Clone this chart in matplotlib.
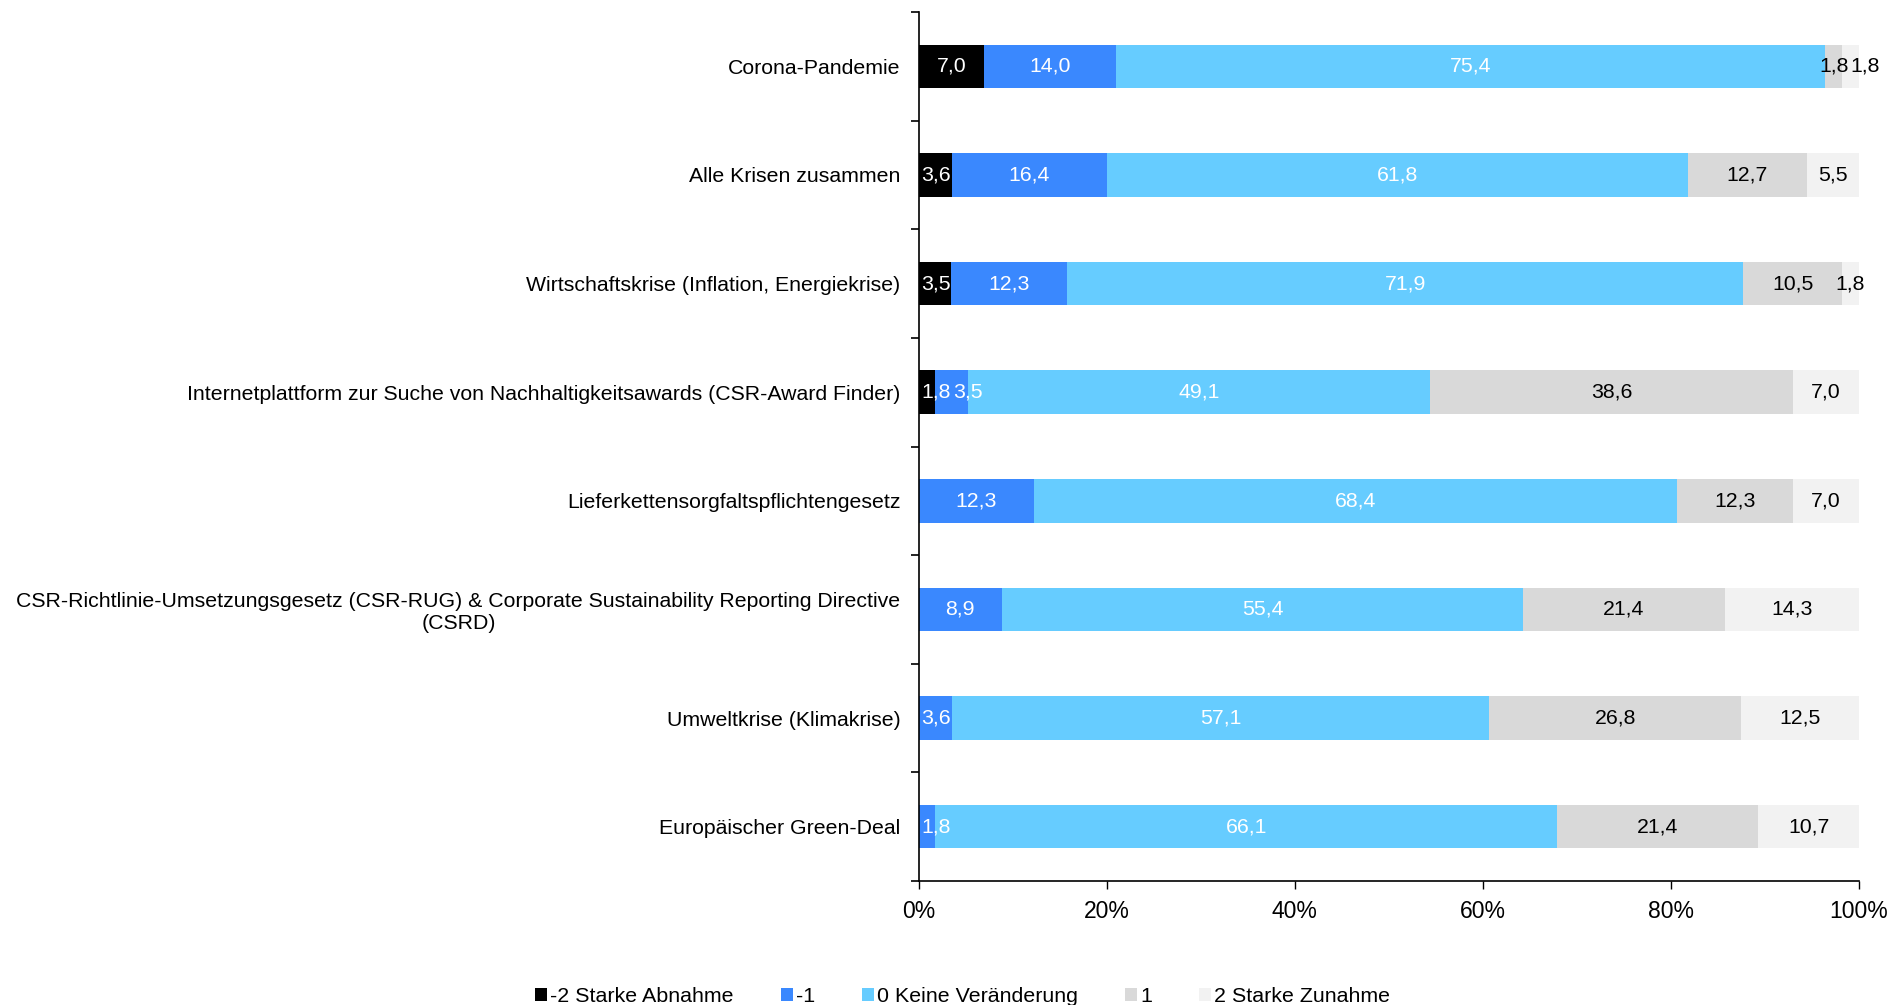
import matplotlib
matplotlib.use("Agg")
import matplotlib.pyplot as plt
from matplotlib.patches import Patch
import numpy as np

plt.rcParams['font.family'] = ['Liberation Sans', 'DejaVu Sans']

categories = [
    "Corona-Pandemie",
    "Alle Krisen zusammen",
    "Wirtschaftskrise (Inflation, Energiekrise)",
    "Internetplattform zur Suche von Nachhaltigkeitsawards (CSR-Award Finder)",
    "Lieferkettensorgfaltspflichtengesetz",
    "CSR-Richtlinie-Umsetzungsgesetz (CSR-RUG) & Corporate Sustainability Reporting Directive\n(CSRD)",
    "Umweltkrise (Klimakrise)",
    "Europäischer Green-Deal",
]
series_names = ["-2 Starke Abnahme", "-1", "0 Keine Veränderung", "1", "2 Starke Zunahme"]
s_minus2 = [7.0, 3.6, 3.5, 1.8, 0.0, 0.0, 0.0, 0.0]
s_minus1 = [14.0, 16.4, 12.3, 3.5, 12.3, 8.9, 3.6, 1.8]
s_zero = [75.4, 61.8, 71.9, 49.1, 68.4, 55.4, 57.1, 66.1]
s_plus1 = [1.8, 12.7, 10.5, 38.6, 12.3, 21.4, 26.8, 21.4]
s_plus2 = [1.8, 5.5, 1.8, 7.0, 7.0, 14.3, 12.5, 10.7]
x_ticks = [0, 20, 40, 60, 80, 100]

colors = ["#000000", "#3A88FE", "#66CCFF", "#D9D9D9", "#F2F2F2"]
text_colors = ["white", "white", "white", "black", "black"]

fig = plt.figure(figsize=(18.95, 10.05), dpi=100)
ax = fig.add_axes([0.4847, 0.1234, 0.4963, 0.8646])

y = np.arange(len(categories))
left = np.zeros(len(categories))
series = [s_minus2, s_minus1, s_zero, s_plus1, s_plus2]
row_labels = {i: [] for i in range(len(categories))}
for vals, col, tc, name in zip(series, colors, text_colors, series_names):
    vals = np.array(vals)
    ax.barh(y, vals, left=left, height=0.4, color=col, label=name, linewidth=0)
    for yi, (l, v) in enumerate(zip(left, vals)):
        if v > 0:
            t = ax.text(l + v / 2, yi, f"{v:.1f}".replace(".", ","), ha="center", va="center",
                        color=tc, fontsize=15.3)
            row_labels[yi].append(t)
    left += vals

ax.set_xlim(0, 100)
ax.set_ylim(len(categories) - 0.5, -0.5)
ax.set_xticks(x_ticks)
ax.set_xticklabels([f"{t}%" for t in x_ticks], fontsize=16.5)
ax.set_yticks(y)
ax.set_yticklabels(categories, fontsize=15.3, multialignment="center")
ax.tick_params(axis="y", which="major", length=0, pad=13)
ax.set_yticks(np.arange(-0.5, len(categories), 1), minor=True)
ax.tick_params(axis="y", which="minor", length=6, width=1.2, direction="out")
ax.tick_params(axis="x", which="major", length=6, width=1, direction="out", pad=8)
for s in ["top", "right"]:
    ax.spines[s].set_visible(False)
ax.spines["left"].set_linewidth(1.2)
ax.spines["bottom"].set_linewidth(1.2)

# resolve label overlaps (keep inside left edge, push right on overlap)
fig.canvas.draw()
renderer = fig.canvas.get_renderer()
inv = ax.transData.inverted()
x0_disp = ax.transData.transform((0, 0))[0]
gap = 2
for yi, texts in row_labels.items():
    prev_right = x0_disp + 1
    for t in texts:
        bb = t.get_window_extent(renderer)
        w = bb.width
        lo = bb.x0
        if lo < prev_right + gap:
            lo = prev_right + gap
        cx = lo + w / 2
        t.set_x(inv.transform((cx, 0))[0])
        prev_right = lo + w

handles = [Patch(facecolor=c, edgecolor="none") for c in colors]
fig.legend(handles, series_names, loc="lower center", bbox_to_anchor=(0.508, -0.02),
           ncol=5, frameon=False, fontsize=15.4, handlelength=0.55, handleheight=0.55,
           handletextpad=0.15, columnspacing=2.2)

fig.savefig("out.png", dpi=100)
